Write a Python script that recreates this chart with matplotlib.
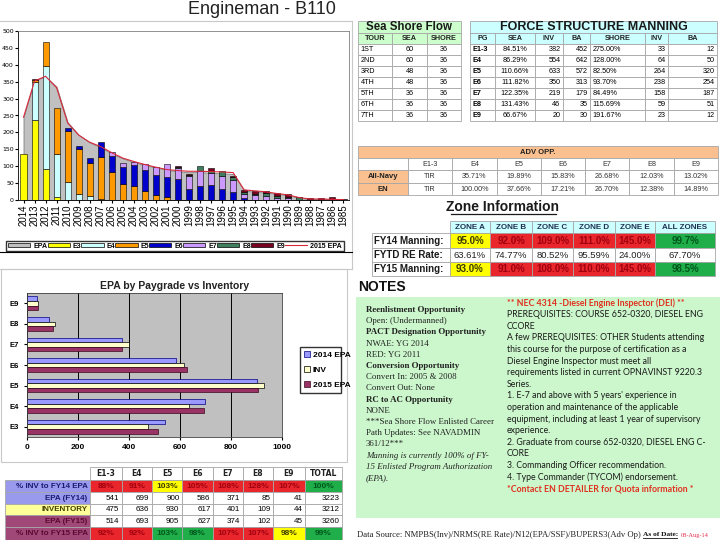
import matplotlib
matplotlib.use('Agg')
import matplotlib.pyplot as plt
from matplotlib.patches import Rectangle, Patch
from matplotlib.lines import Line2D
import numpy as np

W, H = 720, 540

# ---- top chart: EPA by year group ----
years = list(range(2014, 1984, -1))
e3 = [137, 237, 92, 10, 0, 0, 0, 0, 0, 0, 0, 0, 0, 0, 0, 0, 0, 0, 0, 0, 0, 0, 0, 0, 0, 0, 0, 0, 0, 0]
e4 = [0, 113, 304, 125, 53, 17, 13, 3, 0, 0, 0, 0, 0, 0, 0, 0, 0, 0, 0, 0, 0, 0, 0, 0, 0, 0, 0, 0, 0, 0]
e5 = [0, 5, 70, 137, 150, 133, 96, 125, 83, 47, 42, 26, 16, 10, 0, 0, 0, 0, 0, 0, 0, 0, 0, 0, 0, 0, 0, 0, 0, 0]
e6 = [0, 0, 0, 0, 9, 11, 16, 44, 46, 51, 63, 63, 57, 59, 62, 34, 42, 44, 32, 23, 5, 0, 0, 0, 0, 0, 0, 0, 0, 0]
e7 = [0, 0, 0, 0, 0, 0, 0, 0, 13, 11, 6, 17, 26, 37, 34, 37, 45, 37, 39, 36, 13, 14, 12, 6, 5, 0, 0, 0, 0, 0]
e8 = [0, 0, 0, 0, 0, 0, 0, 0, 0, 0, 0, 0, 0, 0, 3, 4, 15, 5, 14, 8, 5, 3, 9, 6, 4, 8, 0, 0, 0, 0]
e9 = [0, 3, 0, 0, 0, 0, 0, 0, 0, 0, 0, 0, 0, 0, 3, 2, 0, 9, 0, 5, 6, 9, 7, 9, 10, 1, 6, 7, 8, 2]
epa_area = [245, 355, 365, 335, 230, 193, 170, 156, 137, 123, 112, 103, 96, 89, 85, 82, 83, 80, 79, 77, 28, 24, 22, 18, 14, 6, 3, 3, 2, 1]
epa_2015 = [245, 352, 366, 332, 228, 192, 171, 158, 140, 124, 114, 105, 97, 90, 87, 85, 85, 84, 83, 81, 30, 27, 24, 19, 15, 7, 3, 3, 2, 1]

# ---- paygrade table / bar chart ----
pg_cols = ['E1-3', 'E4', 'E5', 'E6', 'E7', 'E8', 'E9', 'TOTAL']
epa14 = [541, 699, 900, 586, 371, 85, 41, 3223]
inv = [475, 636, 930, 617, 401, 109, 44, 3212]
epa15 = [514, 693, 905, 627, 374, 102, 45, 3260]
pct14 = ['88%', '91%', '103%', '105%', '108%', '128%', '107%', '100%']
pct14_c = 'RRYRRRRG'
pct15 = ['92%', '92%', '103%', '98%', '107%', '107%', '98%', '99%']
pct15_c = 'RRGGRRYG'
bar_cats = ['E3', 'E4', 'E5', 'E6', 'E7', 'E8', 'E9']

# ---- sea shore flow ----
tours = ['1ST', '2ND', '3RD', '4TH', '5TH', '6TH', '7TH']
tour_sea = [60, 60, 48, 48, 36, 36, 36]
tour_shore = [36, 36, 36, 36, 36, 36, 36]

# ---- force structure manning ----
fsm_pg = ['E1-3', 'E4', 'E5', 'E6', 'E7', 'E8', 'E9']
fsm_sea = ['84.51%', '86.29%', '110.66%', '111.82%', '122.35%', '131.43%', '66.67%']
fsm_sea_inv = [382, 554, 633, 350, 219, 46, 20]
fsm_sea_ba = [452, 642, 572, 313, 179, 35, 30]
fsm_shore = ['275.00%', '128.00%', '82.50%', '93.70%', '84.49%', '115.69%', '191.67%']
fsm_shore_inv = [33, 64, 264, 238, 158, 59, 23]
fsm_shore_ba = [12, 50, 320, 254, 187, 51, 12]

# ---- advancement opportunity ----
adv_cols = ['E1-3', 'E4', 'E5', 'E6', 'E7', 'E8', 'E9']
adv_navy = ['TIR', '35.71%', '19.89%', '15.83%', '26.68%', '12.03%', '13.02%']
adv_en = ['TIR', '100.00%', '37.66%', '17.21%', '26.70%', '12.38%', '14.89%']

# ---- zones ----
zone_cols = ['ZONE A', 'ZONE B', 'ZONE C', 'ZONE D', 'ZONE E', 'ALL ZONES']
fy14_man = ['95.0%', '92.0%', '109.0%', '111.0%', '145.0%', '99.7%']
re_rate = ['63.61%', '74.77%', '80.52%', '95.59%', '24.00%', '67.70%']
fy15_man = ['93.0%', '91.0%', '108.0%', '110.0%', '145.0%', '98.5%']
zone_c = 'YRRRRG'

notes_left = [('Reenlistment Opportunity', 'bold', 'normal'),
              ('Open: (Undermanned)', 'normal', 'normal'),
              ('PACT Designation Opportunity', 'bold', 'normal'),
              ('NWAE: YG 2014', 'normal', 'normal'),
              ('RED: YG 2011', 'normal', 'normal'),
              ('Conversion Opportunity', 'bold', 'normal'),
              ('Convert In: 2005 & 2008', 'normal', 'normal'),
              ('Convert Out: None', 'normal', 'normal'),
              ('RC to AC Opportunity', 'bold', 'normal'),
              ('NONE', 'normal', 'normal'),
              ('***Sea Shore Flow Enlisted Career', 'normal', 'normal'),
              ('Path Updates: See NAVADMIN', 'normal', 'normal'),
              ('361/12***', 'normal', 'normal'),
              ('Manning is currently 100% of FY-', 'normal', 'italic'),
              ('15 Enlisted Program Authorization', 'normal', 'italic'),
              ('(EPA).', 'normal', 'italic')]
notes_right = ['** NEC 4314 -Diesel Engine Inspector (DEI) **',
               'PREREQUISITES: COURSE 652-0320, DIESEL ENG',
               'CCORE',
               'A few PREREQUISITES: OTHER Students attending',
               'this course for the purpose of certification as a',
               'Diesel Engine Inspector must meet all',
               'requirements listed in current OPNAVINST 9220.3',
               'Series.',
               "1. E-7 and above with 5 years' experience in",
               'operation and maintenance of the applicable',
               'equipment, including at least 1 year of supervisory',
               'experience.',
               '2. Graduate from course 652-0320, DIESEL ENG C-',
               'CORE',
               '3. Commanding Officer recommendation.',
               '4. Type Commander (TYCOM) endorsement.',
               '*Contact EN DETAILER for Quota information *']

FILL = {'R': '#e8262c', 'Y': '#ffff00', 'G': '#1fae4a'}
TXT = {'R': '#a0000f', 'Y': '#3a3a00', 'G': '#00561a'}
SANS = 'Liberation Sans'
SERIF = 'Liberation Serif'

fig = plt.figure(figsize=(7.2, 5.4), dpi=100)
bg = fig.add_axes([0, 0, 1, 1])
bg.set_xlim(0, W); bg.set_ylim(H, 0); bg.axis('off')


def ax_px(x0, y0, x1, y1):
    return fig.add_axes([x0 / W, 1 - y1 / H, (x1 - x0) / W, (y1 - y0) / H])


def cell(x0, y0, x1, y1, txt='', fc='white', ec='#a6a6a6', ha='center', color='black',
         size=5.5, weight='normal', family=SANS, pad=2.5):
    bg.add_patch(Rectangle((x0, y0), x1 - x0, y1 - y0, fc=fc, ec=ec, lw=0.6))
    if txt != '':
        x = {'center': (x0 + x1) / 2, 'right': x1 - pad, 'left': x0 + pad}[ha]
        bg.text(x, (y0 + y1) / 2 + 0.3, str(txt), ha=ha, va='center', color=color,
                fontsize=size, fontweight=weight, family=family)


# title
bg.text(262, 10, 'Engineman - B110', ha='center', va='center', fontsize=13, family=SANS, color='#222222')

# panel frames
bg.plot([0, 352], [21, 21], color='#c8c8c8', lw=0.8)
bg.plot([0, 352], [269, 269], color='#c8c8c8', lw=0.8)
bg.plot([352, 352], [21, 269], color='#c8c8c8', lw=0.8)
bg.add_patch(Rectangle((1, 269), 346, 193, fc='none', ec='#c8c8c8', lw=0.8))
bg.plot([0, 352], [252, 252], color='black', lw=0.8)

# ---- top stacked chart ----
ax1 = ax_px(18, 31, 349, 200)
x = np.arange(len(years))
ax1.fill_between(x, epa_area, color='#c0c0c0', edgecolor='#7f7f7f', lw=0.6, zorder=1)
stack = [(e3, '#ffff00', 'E3'), (e4, '#ccffff', 'E4'), (e5, '#ff9900', 'E5'), (e6, '#0000cc', 'E6'),
         (e7, '#cc99ff', 'E7'), (e8, '#3f7f5f', 'E8'), (e9, '#7a0020', 'E9')]
bottom = np.zeros(len(years))
for vals, col, lab in stack:
    v = np.array(vals, dtype=float)
    m = v > 0
    ax1.bar(x[m], v[m], 0.55, bottom=bottom[m], color=col, edgecolor='black', lw=0.4, zorder=2)
    bottom += v
ax1.plot(x, epa_2015, color='#d8283a', lw=0.8, zorder=3)
ax1.set_xlim(-0.5, len(years) - 0.5)
ax1.set_ylim(0, 500)
ax1.set_yticks(range(0, 501, 50))
ax1.set_xticks(x)
ax1.set_xticklabels([str(y) for y in years], rotation=90, fontsize=7, family=SANS)
ax1.tick_params(axis='y', labelsize=4.5, length=2, pad=1)
ax1.tick_params(axis='x', length=2, pad=1)
for s in ['top', 'right']:
    ax1.spines[s].set_color('#808080')
for s in ax1.spines.values():
    s.set_linewidth(0.6)

h1 = [Patch(fc='#c0c0c0', ec='black', lw=0.5)] + [Patch(fc=c, ec='black', lw=0.5) for _, c, _ in stack] + \
     [Line2D([], [], color='#d8283a', lw=0.8)]
l1 = ['EPA'] + [s[2] for s in stack] + ['2015 EPA']
fig.legend(h1, l1, loc='center', bbox_to_anchor=(3 / W, 1 - 252 / H, 344 / W, 12 / H), mode='expand',
           ncol=9, frameon=True, fancybox=False, edgecolor='black', handlelength=3.2, handleheight=0.55,
           handletextpad=0.4, borderpad=0.25, columnspacing=0.6,
           prop={'size': 5, 'weight': 'bold', 'family': SANS})

# ---- bottom bar chart ----
bg.text(175, 286, 'EPA by Paygrade vs Inventory', ha='center', va='center', fontsize=7.5,
        fontweight='bold', family=SANS, color='#222222')
ax2 = ax_px(27, 293, 282, 437)
ax2.set_facecolor('#c0c0c0')
yy = np.arange(len(bar_cats))
hh = 0.22
ax2.barh(yy + hh, epa14[:7], hh, color='#9999ff', edgecolor='#000080', lw=0.5, label='2014 EPA', zorder=2)
ax2.barh(yy, inv[:7], hh, color='#ffffcc', edgecolor='black', lw=0.5, label='INV', zorder=2)
ax2.barh(yy - hh, epa15[:7], hh, color='#993366', edgecolor='#3a0a20', lw=0.5, label='2015 EPA', zorder=2)
ax2.set_xlim(0, 1000)
ax2.set_ylim(-0.5, len(bar_cats) - 0.5)
ax2.set_xticks(range(0, 1001, 200))
ax2.set_yticks(yy)
ax2.set_yticklabels(bar_cats, fontsize=5.5, fontweight='bold', family=SANS)
ax2.tick_params(axis='x', labelsize=6, length=2, pad=3)
ax2.tick_params(axis='y', length=2, pad=4)
for lab in ax2.get_xticklabels():
    lab.set_fontweight('bold'); lab.set_family(SANS)
ax2.grid(axis='x', color='black', lw=0.7, zorder=1)
ax2.set_axisbelow(True)
for s in ax2.spines.values():
    s.set_linewidth(0.6); s.set_color('#404040')
h2, l2 = ax2.get_legend_handles_labels()
fig.legend(h2, l2, loc='center', bbox_to_anchor=(296 / W, 1 - 392 / H, 49 / W, 44 / H), mode='expand',
           frameon=True, fancybox=False, edgecolor='black', handlelength=0.7, handleheight=0.7,
           handletextpad=0.3, labelspacing=0.9, borderpad=0.5,
           prop={'size': 6, 'weight': 'bold', 'family': SANS})

# ---- bottom left table ----
cx = [5, 90, 122, 152, 182, 213, 243, 273, 305, 342]
ry = [467, 480, 492, 504, 515, 527, 540]
for j, c in enumerate(pg_cols):
    cell(cx[j + 1], ry[0], cx[j + 2], ry[1], c, weight='bold', size=5.5, family='DejaVu Sans', color='#222222')
rows = [('% INV to FY14 EPA', '#9999ee', '#1a1a70'), ('EPA (FY14)', '#9999ee', '#1a1a70'),
        ('INVENTORY', '#ffff99', '#404000'), ('EPA (FY15)', '#a04878', '#5a0a30'),
        ('% INV to FY15 EPA', '#a04878', '#5a0a30')]
for i, (lab, fc, tc) in enumerate(rows):
    cell(cx[0], ry[i + 1], cx[1], ry[i + 2], lab, fc=fc, ha='right', color=tc, weight='bold', size=5.8)
for j in range(len(pg_cols)):
    c0, c1 = cx[j + 1], cx[j + 2]
    k = pct14_c[j]
    cell(c0, ry[1], c1, ry[2], pct14[j], fc=FILL[k], color=TXT[k], weight='bold', size=6)
    cell(c0, ry[2], c1, ry[3], epa14[j], ha='right', size=5.8)
    cell(c0, ry[3], c1, ry[4], inv[j], ha='right', size=5.8)
    cell(c0, ry[4], c1, ry[5], epa15[j], ha='right', size=5.8)
    k = pct15_c[j]
    cell(c0, ry[5], c1, ry[6], pct15[j], fc=FILL[k], color=TXT[k], weight='bold', size=6)

# ---- sea shore flow ----
sx = [358, 392, 427, 461]
ty = [21, 33, 44]
rh = 11
cell(sx[0], ty[0], sx[3], ty[1], 'Sea Shore Flow', fc='#ccffcc', weight='bold', size=8.3, color='#1a1a1a')
for j, c in enumerate(['TOUR', 'SEA', 'SHORE']):
    cell(sx[j], ty[1], sx[j + 1], ty[2], c, fc='#ccffcc', weight='bold', size=5.2, color='#222222')
for i in range(len(tours)):
    y0 = ty[2] + i * rh
    cell(sx[0], y0, sx[1], y0 + rh, tours[i], ha='left', size=5.2)
    cell(sx[1], y0, sx[2], y0 + rh, tour_sea[i], size=5.2)
    cell(sx[2], y0, sx[3], y0 + rh, tour_shore[i], size=5.2)

# ---- force structure manning ----
fx = [470, 495, 535, 563, 590, 645, 668, 717]
cell(fx[0], ty[0], fx[-1], ty[1], 'FORCE STRUCTURE MANNING', fc='#ccffff', weight='bold', size=9, color='#1a1a1a')
for j, c in enumerate(['PG', 'SEA', 'INV', 'BA', 'SHORE', 'INV', 'BA']):
    cell(fx[j], ty[1], fx[j + 1], ty[2], c, fc='#ccffff', weight='bold', size=5.2, color='#222222')
for i in range(len(fsm_pg)):
    y0 = ty[2] + i * rh
    vals = [(fsm_pg[i], 'left', 'bold'), (fsm_sea[i], 'center', 'normal'), (fsm_sea_inv[i], 'right', 'normal'),
            (fsm_sea_ba[i], 'right', 'normal'), (fsm_shore[i], 'left', 'normal'),
            (fsm_shore_inv[i], 'right', 'normal'), (fsm_shore_ba[i], 'right', 'normal')]
    for j, (v, ha, wt) in enumerate(vals):
        cell(fx[j], y0, fx[j + 1], y0 + rh, v, ha=ha, weight=wt, size=5.2)

# ---- advancement opportunity ----
ax_ = [358, 408] + [408 + (718 - 408) * k / 7 for k in range(1, 8)]
cell(358, 146, 718, 158, 'ADV OPP.', fc='#fac090', weight='bold', size=5.5, color='#222222')
cell(358, 158, 408, 170)
for j, c in enumerate(adv_cols):
    cell(ax_[j + 1], 158, ax_[j + 2], 170, c, size=5.2, color='#333333')
for i, (lab, vals) in enumerate([('All-Navy', adv_navy), ('EN', adv_en)]):
    y0 = 170 + i * 12.5
    cell(358, y0, 408, y0 + 12.5, lab, fc='#fac090', weight='bold', size=5.5, color='#222222')
    for j, v in enumerate(vals):
        cell(ax_[j + 1], y0, ax_[j + 2], y0 + 12.5, v, size=5.2, color='#333333')

# ---- zone information ----
bg.text(503, 207, 'Zone Information', ha='center', va='center', fontsize=10, fontweight='bold',
        family=SANS, color='#1a1a1a')
bg.plot([451, 556], [214, 214], color='#1a1a1a', lw=0.9)
zx = [372, 450, 490, 532, 573, 615, 655, 715]
zy = [221, 233, 248, 262, 276]
for j, c in enumerate(zone_cols):
    cell(zx[j + 1], zy[0], zx[j + 2], zy[1], c, fc='#ccffff', weight='bold', size=5.8, color='#1f2f50')
zrows = [('FY14 Manning:', fy14_man, True), ('FYTD RE Rate:', re_rate, False), ('FY15 Manning:', fy15_man, True)]
for i, (lab, vals, colored) in enumerate(zrows):
    cell(zx[0], zy[i + 1], zx[1], zy[i + 2], lab, ha='left', weight='bold', size=7, color='#1a1a1a')
    for j, v in enumerate(vals):
        if colored:
            k = zone_c[j]
            cell(zx[j + 1], zy[i + 1], zx[j + 2], zy[i + 2], v, fc=FILL[k], color=TXT[k], weight='bold', size=7)
        else:
            cell(zx[j + 1], zy[i + 1], zx[j + 2], zy[i + 2], v, size=6.8, color='#222222')

# ---- notes ----
bg.text(358, 287, 'NOTES', ha='left', va='center', fontsize=10, fontweight='bold', family=SANS, color='#111111')
bg.add_patch(Rectangle((356, 297), 364, 221, fc='#ccf7cc', ec='none'))
for i, (t, wt, st) in enumerate(notes_left):
    bg.text(366, 310 + i * 11.2, t, ha='left', va='center', fontsize=6.4, fontweight=wt, fontstyle=st,
            family=SERIF, color='#222222')
for i, t in enumerate(notes_right):
    red = i == 0 or i == len(notes_right) - 1
    bg.text(507, 303 + i * 11.6, t, ha='left', va='center', fontsize=6.3,
            fontweight='bold' if red else 'normal', family='Lato', color='#e0301e' if red else '#1a1a1a')

# ---- footer ----
bg.text(357, 535, 'Data Source: NMPBS(Inv)/NRMS(RE Rate)/N12(EPA/SSF)/BUPERS3(Adv Op)', ha='left', va='center',
        fontsize=6.2, family=SERIF, color='#222222')
bg.text(643, 534, 'As of Date:', ha='left', va='center', fontsize=5.3, fontweight='bold', family=SERIF,
        color='#111111')
bg.plot([643, 677], [537.5, 537.5], color='#111111', lw=0.6)
bg.text(681, 535, '08-Aug-14', ha='left', va='center', fontsize=4.6, family=SERIF, color='#e03050')

fig.savefig('out.png', dpi=100)
